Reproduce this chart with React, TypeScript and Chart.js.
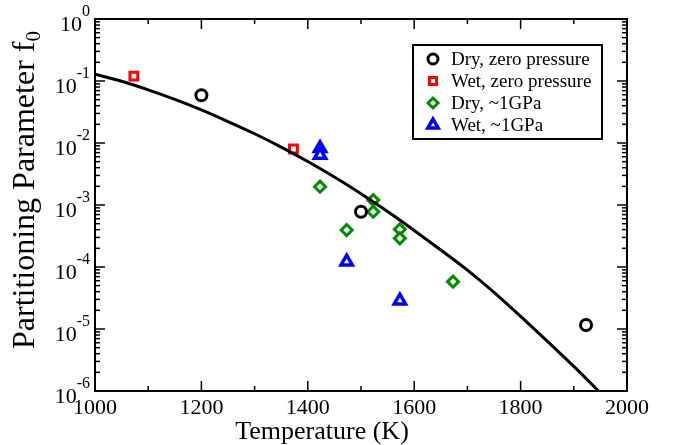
import React, { useEffect, useRef } from 'react';
import { Chart, registerables } from 'chart.js';
import { drawPoint } from 'chart.js/helpers';

Chart.register(...registerables);

// Fitted curve
const curveT = [1000, 1050, 1100, 1150, 1200, 1250, 1300, 1350, 1400, 1450, 1500, 1550, 1600, 1650, 1700, 1750, 1800, 1850, 1900, 1950];
const curveF = [0.129, 0.0989, 0.0720, 0.0505, 0.0342, 0.0222, 0.0141, 0.00860, 0.00502, 0.00282, 0.00152, 0.000783, 0.000388, 0.000188, 0.0000890, 0.0000390, 0.0000160, 0.00000638, 0.00000249, 0.000000933];

// Measurements
const dryZeroT = [1200, 1500, 1923];
const dryZeroF = [0.059, 0.00078, 0.0000116];
const wetZeroT = [1073, 1373];
const wetZeroF = [0.12, 0.008];
const dryGPaT = [1423, 1523, 1523, 1473, 1573, 1573, 1673];
const dryGPaF = [0.00197, 0.0012, 0.00078, 0.000395, 0.000405, 0.00029, 0.000058];
const wetGPaT = [1423, 1423, 1473, 1573];
const wetGPaF = [0.0082, 0.0064, 0.000122, 0.0000286];

const legendLabels = ['Dry, zero pressure', 'Wet, zero pressure', 'Dry, ~1GPa', 'Wet, ~1GPa'];
const xTickValues = [1000, 1200, 1400, 1600, 1800, 2000];
const xMinorValues = [1100, 1300, 1500, 1700, 1900];
const yExponents = [0, -1, -2, -3, -4, -5, -6];
const xTitle = 'Temperature (K)';
const yTitle = 'Partitioning Parameter f';
const yTitleSub = '0';

const SERIF = '"Liberation Serif", "DejaVu Serif", serif';
const GREEN = 'rgb(0,139,0)';

const pts = (xs: number[], ys: number[]) => xs.map((x, i) => ({ x, y: ys[i] }));

const graceAxes = {
  id: 'graceAxes',
  afterDraw(chart: any) {
    const { ctx, chartArea: a, scales } = chart;
    const xs = scales.x;
    const ys = scales.y;
    ctx.save();
    ctx.strokeStyle = '#000';
    ctx.fillStyle = '#000';
    const seg = (x1: number, y1: number, x2: number, y2: number) => {
      ctx.beginPath();
      ctx.moveTo(x1, y1);
      ctx.lineTo(x2, y2);
      ctx.stroke();
    };
    ctx.lineWidth = 1.5;
    // x ticks (inward, bottom & top)
    for (const v of xTickValues) {
      const p = xs.getPixelForValue(v);
      seg(p, a.bottom, p, a.bottom - 10);
      seg(p, a.top, p, a.top + 10);
    }
    for (const v of xMinorValues) {
      const p = xs.getPixelForValue(v);
      seg(p, a.bottom, p, a.bottom - 5);
      seg(p, a.top, p, a.top + 5);
    }
    // y ticks (inward, left & right)
    for (const e of yExponents) {
      for (let m = 1; m <= 9; m++) {
        const v = m * Math.pow(10, e);
        if (v > 1.0000001) continue;
        const p = ys.getPixelForValue(v);
        const len = m === 1 ? 10 : 5;
        seg(a.left, p, a.left + len, p);
        seg(a.right, p, a.right - len, p);
      }
    }
    // frame
    ctx.lineWidth = 2;
    ctx.strokeRect(a.left, a.top, a.right - a.left, a.bottom - a.top);

    // x tick labels
    ctx.font = `22px ${SERIF}`;
    ctx.textAlign = 'center';
    ctx.textBaseline = 'alphabetic';
    for (const v of xTickValues) {
      ctx.fillText(String(v), xs.getPixelForValue(v), a.bottom + 23);
    }
    // y tick labels 10^e
    for (const e of yExponents) {
      const p = ys.getPixelForValue(Math.pow(10, e));
      const expStr = e === 0 ? '0' : '-' + String(-e);
      ctx.font = `16px ${SERIF}`;
      ctx.textAlign = 'right';
      const ew = ctx.measureText(expStr).width;
      ctx.fillText(expStr, a.left - 5, p - 3);
      ctx.font = `22px ${SERIF}`;
      ctx.fillText('10', a.left - 5 - ew, p + 12);
    }
    // axis titles
    ctx.font = `26px ${SERIF}`;
    ctx.textAlign = 'center';
    ctx.fillText(xTitle, 322, 439);

    ctx.save();
    ctx.translate(34, 190);
    ctx.rotate(-Math.PI / 2);
    ctx.font = `32px ${SERIF}`;
    const tw = ctx.measureText(yTitle).width;
    ctx.font = `21px ${SERIF}`;
    const sw = ctx.measureText(yTitleSub).width;
    const start = -(tw + sw) / 2;
    ctx.textAlign = 'left';
    ctx.font = `32px ${SERIF}`;
    ctx.fillText(yTitle, start, 0);
    ctx.font = `21px ${SERIF}`;
    ctx.fillText(yTitleSub, start + tw, 6);
    ctx.restore();

    // legend
    ctx.lineWidth = 2;
    ctx.strokeStyle = '#000';
    ctx.fillStyle = '#fff';
    ctx.fillRect(413, 45, 189, 94);
    ctx.strokeRect(413, 45, 189, 94);
    const ds = chart.data.datasets.slice(1);
    ds.forEach((d: any, i: number) => {
      const y = 59 + i * 22;
      ctx.strokeStyle = d.borderColor;
      ctx.fillStyle = d.backgroundColor;
      ctx.lineWidth = d.borderWidth;
      drawPoint(ctx, { pointStyle: d.pointStyle, radius: d.pointRadius - 0.5, borderWidth: d.borderWidth, rotation: 0 }, 433, y);
      ctx.fillStyle = '#000';
      ctx.font = `19px ${SERIF}`;
      ctx.textAlign = 'left';
      ctx.textBaseline = 'middle';
      ctx.fillText(legendLabels[i], 451, y + 1);
    });
    ctx.restore();
  },
};

export default function App() {
  const ref = useRef<HTMLCanvasElement | null>(null);
  useEffect(() => {
    if (!ref.current) return;
    const chart = new Chart(ref.current, {
      type: 'scatter',
      data: {
        datasets: [
          {
            type: 'line',
            label: 'fit',
            data: pts(curveT, curveF),
            borderColor: '#000',
            borderWidth: 3,
            pointRadius: 0,
            fill: false,
            cubicInterpolationMode: 'monotone',
          } as any,
          {
            label: legendLabels[0],
            data: pts(dryZeroT, dryZeroF),
            pointStyle: 'circle',
            pointRadius: 5.5,
            borderWidth: 3,
            borderColor: '#000',
            backgroundColor: '#fff',
          },
          {
            label: legendLabels[1],
            data: pts(wetZeroT, wetZeroF),
            pointStyle: 'rect',
            pointRadius: 5.5,
            borderWidth: 3,
            borderColor: '#ff0000',
            backgroundColor: '#fff',
          },
          {
            label: legendLabels[2],
            data: pts(dryGPaT, dryGPaF),
            pointStyle: 'rectRot',
            pointRadius: 5.5,
            borderWidth: 3,
            borderColor: GREEN,
            backgroundColor: '#fff',
          },
          {
            label: legendLabels[3],
            data: pts(wetGPaT, wetGPaF),
            pointStyle: 'triangle',
            pointRadius: 6.5,
            borderWidth: 3.5,
            borderColor: '#0000ff',
            backgroundColor: '#fff',
          },
        ],
      },
      options: {
        animation: false,
        responsive: false,
        layout: { padding: { left: 95, right: 47, top: 19, bottom: 54 } },
        plugins: { legend: { display: false }, tooltip: { enabled: false } },
        scales: {
          x: { type: 'linear', min: 1000, max: 2000, display: false },
          y: { type: 'logarithmic', min: 1e-6, max: 1, display: false },
        },
      },
      plugins: [graceAxes],
    });
    return () => chart.destroy();
  }, []);
  return (
    <div style={{ position: 'absolute', left: 0, top: 0, width: 674, height: 445, background: '#fff' }}>
      <canvas ref={ref} width={674} height={445} />
    </div>
  );
}
